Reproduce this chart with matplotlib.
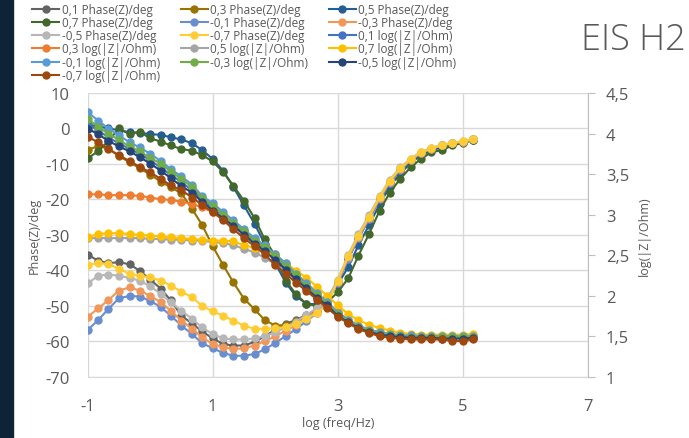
import matplotlib
matplotlib.use('Agg')
import matplotlib.pyplot as plt
from matplotlib.patches import Rectangle

plt.rcParams['font.family'] = ['Open Sans', 'DejaVu Sans']
plt.rcParams['axes.unicode_minus'] = False

# log(freq/Hz), 6 points per decade
logf = [-1.0, -0.83, -0.67, -0.5, -0.33, -0.17, 0.0, 0.17, 0.33, 0.5, 0.67, 0.83,
        1.0, 1.17, 1.33, 1.5, 1.67, 1.83, 2.0, 2.17, 2.33, 2.5, 2.67, 2.83,
        3.0, 3.17, 3.33, 3.5, 3.67, 3.83, 4.0, 4.17, 4.33, 4.5, 4.67, 4.83, 5.0, 5.17]

# Phase(Z)/deg  (left axis)
ph_p01 = [-35.6, -37.3, -38.0, -37.7, -38.3, -40.1, -42.6, -45.2, -48.5, -52.8, -55.0, -57.2,
          -59.2, -60.8, -61.2, -61.2, -60.2, -58.6, -56.8, -55.1, -54.0, -52.6, -51.0, -48.6,
          -43.2, -36.5, -30.8, -25.4, -19.9, -15.2, -11.6, -8.9, -7.0, -5.8, -4.8, -4.2, -3.7, -3.1]
ph_p03 = [-6.0, -5.0, -5.6, -7.8, -9.5, -11.2, -13.0, -15.0, -16.6, -18.3, -22.7, -27.2,
          -33.2, -38.6, -43.4, -48.0, -51.0, -54.0, -55.6, -55.4, -54.4, -53.0, -51.2, -48.8,
          -43.4, -36.7, -31.0, -25.6, -20.1, -15.4, -11.7, -9.0, -7.1, -5.9, -4.9, -4.3, -3.8, -3.2]
ph_p05 = [1.0, 0.6, 0.0, -0.5, -1.1, -1.2, -1.6, -1.8, -2.5, -3.1, -4.2, -6.1,
          -8.6, -12.0, -16.5, -21.7, -26.9, -32.5, -38.0, -43.5, -47.3, -49.4, -49.6, -47.6,
          -44.0, -39.0, -33.0, -27.3, -21.4, -16.4, -12.7, -9.7, -7.6, -6.2, -5.3, -4.5, -3.9, -3.2]
ph_p07 = [-8.4, -6.4, -3.5, 0.0, -1.6, -0.9, -2.8, -3.7, -4.8, -5.8, -6.3, -7.5,
          -9.3, -12.4, -16.1, -20.4, -25.3, -31.2, -35.9, -42.9, -46.7, -49.5, -50.0, -49.0,
          -46.2, -42.2, -35.9, -29.8, -23.2, -18.2, -14.2, -10.9, -8.6, -6.7, -6.1, -4.8, -4.1, -3.3]
ph_m01 = [-56.8, -54.0, -50.9, -47.9, -47.2, -47.4, -48.6, -50.4, -52.8, -55.6, -58.0, -60.5,
          -62.0, -63.3, -64.1, -64.1, -63.6, -62.3, -60.5, -58.5, -56.6, -54.3, -52.0, -49.0,
          -43.6, -36.8, -31.0, -25.6, -20.0, -15.3, -11.6, -8.9, -7.0, -5.8, -4.8, -4.2, -3.7, -3.1]
ph_m03 = [-53.1, -50.7, -48.4, -45.7, -44.8, -45.7, -47.2, -49.0, -51.4, -54.2, -56.5, -58.9,
          -60.8, -61.7, -62.2, -62.0, -61.2, -60.0, -58.6, -57.0, -55.5, -53.5, -51.4, -48.6,
          -43.2, -36.3, -30.6, -25.2, -19.7, -15.0, -11.4, -8.8, -6.9, -5.7, -4.7, -4.2, -3.7, -3.1]
ph_m05 = [-43.7, -41.5, -41.2, -41.5, -42.2, -42.9, -44.5, -46.7, -49.0, -51.4, -53.7, -56.1,
          -58.0, -59.2, -59.5, -59.5, -59.2, -58.6, -57.5, -56.0, -54.5, -52.6, -50.6, -48.2,
          -42.6, -35.6, -29.8, -24.5, -19.1, -14.5, -11.0, -8.5, -6.6, -5.5, -4.6, -4.1, -3.6, -3.0]
ph_m07 = [-38.4, -38.0, -38.2, -39.6, -41.0, -41.5, -42.0, -42.9, -44.3, -46.0, -47.6, -50.0,
          -51.6, -52.8, -54.2, -55.6, -56.5, -56.5, -56.3, -56.0, -55.2, -53.7, -52.0, -49.8,
          -42.9, -35.9, -30.2, -24.9, -19.4, -14.7, -11.2, -8.6, -6.7, -5.6, -4.6, -4.1, -3.6, -3.0]

# log(|Z|/Ohm)  (right axis)
lz_p01 = [4.11, 4.04, 3.95, 3.88, 3.81, 3.75, 3.67, 3.58, 3.49, 3.40, 3.30, 3.19,
          3.08, 2.98, 2.88, 2.78, 2.66, 2.58, 2.46, 2.35, 2.23, 2.10, 1.98, 1.88,
          1.76, 1.67, 1.61, 1.56, 1.53, 1.51, 1.49, 1.49, 1.49, 1.48, 1.48, 1.48, 1.48, 1.48]
lz_p03 = [3.25, 3.25, 3.24, 3.24, 3.24, 3.23, 3.21, 3.19, 3.18, 3.16, 3.13, 3.09,
          3.03, 2.98, 2.89, 2.80, 2.70, 2.61, 2.51, 2.39, 2.27, 2.16, 2.03, 1.92,
          1.80, 1.70, 1.63, 1.58, 1.54, 1.52, 1.51, 1.50, 1.50, 1.49, 1.49, 1.49, 1.49, 1.50]
lz_p05 = [2.71, 2.71, 2.71, 2.71, 2.71, 2.71, 2.70, 2.70, 2.69, 2.69, 2.68, 2.68,
          2.66, 2.65, 2.62, 2.58, 2.53, 2.47, 2.39, 2.30, 2.20, 2.10, 2.00, 1.89,
          1.79, 1.70, 1.63, 1.58, 1.54, 1.52, 1.51, 1.50, 1.50, 1.50, 1.50, 1.50, 1.50, 1.50]
lz_p07 = [2.72, 2.76, 2.77, 2.77, 2.76, 2.75, 2.74, 2.73, 2.72, 2.71, 2.70, 2.69,
          2.68, 2.68, 2.67, 2.62, 2.59, 2.55, 2.49, 2.40, 2.31, 2.22, 2.11, 2.00,
          1.88, 1.77, 1.70, 1.64, 1.60, 1.57, 1.54, 1.53, 1.52, 1.52, 1.52, 1.52, 1.52, 1.53]
lz_m01 = [4.26, 4.16, 4.06, 3.98, 3.89, 3.83, 3.75, 3.66, 3.56, 3.47, 3.37, 3.23,
          3.14, 3.03, 2.93, 2.82, 2.71, 2.62, 2.51, 2.40, 2.27, 2.15, 2.03, 1.92,
          1.79, 1.70, 1.63, 1.58, 1.55, 1.53, 1.51, 1.51, 1.50, 1.50, 1.50, 1.50, 1.50, 1.50]
lz_m03 = [4.18, 4.08, 4.00, 3.92, 3.84, 3.78, 3.70, 3.63, 3.53, 3.44, 3.34, 3.21,
          3.11, 3.00, 2.90, 2.80, 2.68, 2.60, 2.49, 2.37, 2.25, 2.12, 2.01, 1.90,
          1.77, 1.68, 1.61, 1.57, 1.53, 1.51, 1.50, 1.49, 1.49, 1.49, 1.49, 1.49, 1.49, 1.49]
lz_m05 = [4.06, 3.99, 3.91, 3.84, 3.78, 3.71, 3.63, 3.54, 3.45, 3.35, 3.27, 3.16,
          3.05, 2.95, 2.86, 2.75, 2.64, 2.55, 2.44, 2.32, 2.20, 2.09, 1.97, 1.88,
          1.75, 1.67, 1.60, 1.55, 1.52, 1.50, 1.49, 1.48, 1.48, 1.48, 1.47, 1.47, 1.47, 1.48]
lz_m07 = [3.96, 3.89, 3.81, 3.73, 3.66, 3.59, 3.52, 3.44, 3.36, 3.30, 3.21, 3.12,
          3.03, 2.93, 2.82, 2.71, 2.61, 2.51, 2.38, 2.27, 2.16, 2.06, 1.95, 1.85,
          1.74, 1.66, 1.59, 1.54, 1.50, 1.48, 1.47, 1.46, 1.46, 1.46, 1.46, 1.44, 1.44, 1.46]

phase_series = [('0,1 Phase(Z)/deg', ph_p01, '#636363'),
                ('0,3 Phase(Z)/deg', ph_p03, '#997300'),
                ('0,5 Phase(Z)/deg', ph_p05, '#255E91'),
                ('0,7 Phase(Z)/deg', ph_p07, '#43682B'),
                ('-0,1 Phase(Z)/deg', ph_m01, '#698ED0'),
                ('-0,3 Phase(Z)/deg', ph_m03, '#F1975A'),
                ('-0,5 Phase(Z)/deg', ph_m05, '#B7B7B7'),
                ('-0,7 Phase(Z)/deg', ph_m07, '#FFCD33')]
logz_series = [('0,1 log(|Z|/Ohm)', lz_p01, '#4472C4'),
               ('0,3 log(|Z|/Ohm)', lz_p03, '#ED7D31'),
               ('0,5 log(|Z|/Ohm)', lz_p05, '#A5A5A5'),
               ('0,7 log(|Z|/Ohm)', lz_p07, '#FFC000'),
               ('-0,1 log(|Z|/Ohm)', lz_m01, '#5B9BD5'),
               ('-0,3 log(|Z|/Ohm)', lz_m03, '#70AD47'),
               ('-0,5 log(|Z|/Ohm)', lz_m05, '#264478'),
               ('-0,7 log(|Z|/Ohm)', lz_m07, '#9E480E')]

txt = '#595959'
grid = '#D9D9D9'

fig = plt.figure(figsize=(6.89, 4.39), dpi=100)
# dark strip of the slide background on the left
fig.patches.append(Rectangle((0, 0), 0.019, 1, transform=fig.transFigure,
                             color='#0d2436', zorder=0))

ax = fig.add_axes([0.1273, 0.1396, 0.7257, 0.6463])
ax2 = ax.twinx()

handles = []
for lab, vals, col in phase_series:
    h, = ax.plot(logf, vals, '-o', color=col, lw=1.5, ms=5, label=lab)
    handles.append(h)
for lab, vals, col in logz_series:
    h, = ax2.plot(logf, vals, '-o', color=col, lw=1.5, ms=5, label=lab)
    handles.append(h)

ax.set_xlim(-1, 7)
ax.set_ylim(-70, 10)
ax2.set_ylim(1, 4.5)
ax.set_xticks([-1, 1, 3, 5, 7])
ax.set_yticks(range(-70, 11, 10))
rticks = [1, 1.5, 2, 2.5, 3, 3.5, 4, 4.5]
ax2.set_yticks(rticks)
ax2.set_yticklabels([('%g' % t).replace('.', ',') for t in rticks])

ax.grid(True, color=grid, lw=1)
ax.set_axisbelow(True)
for s in ['top', 'left', 'right']:
    ax.spines[s].set_visible(False)
ax.spines['bottom'].set_color(grid)
for s in ['top', 'left', 'bottom']:
    ax2.spines[s].set_visible(False)
ax2.spines['right'].set_color('#BFBFBF')

ax.tick_params(axis='both', length=0, labelsize=12, labelcolor=txt)
ax.tick_params(axis='y', pad=13)
ax.tick_params(axis='x', pad=15)
ax2.tick_params(axis='y', length=5, color='#BFBFBF', labelsize=12, labelcolor=txt, pad=8)

ax.set_xlabel('log (freq/Hz)', fontsize=9, color=txt, labelpad=2)
ax.set_ylabel('Phase(Z)/deg', fontsize=9, color=txt, labelpad=3)
ax2.set_ylabel('log(|Z|/Ohm)', fontsize=9, color=txt, rotation=90, labelpad=6)

# legend is filled row by row in the original
order = [0, 3, 6, 9, 12, 15, 1, 4, 7, 10, 13, 2, 5, 8, 11, 14]
leg = fig.legend([handles[i] for i in order], [handles[i].get_label() for i in order],
                 loc='upper left', bbox_to_anchor=(0.038, 1.005), ncol=3, frameon=False,
                 fontsize=8.5, handlelength=2.3, handletextpad=0.2, columnspacing=1.75,
                 labelspacing=0.02, borderaxespad=0.1)
for t in leg.get_texts():
    t.set_color(txt)

fig.text(0.995, 0.885, 'EIS H2', ha='right', va='baseline', fontsize=26, color=txt,
         fontweight='light')

fig.savefig('out.png', dpi=100)
